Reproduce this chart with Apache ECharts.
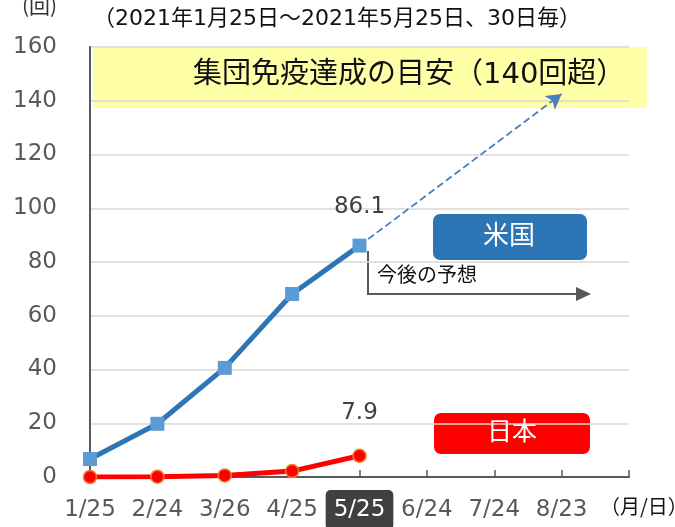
<!DOCTYPE html>
<html>
<head>
<meta charset="utf-8">
<script src="https://cdn.jsdelivr.net/npm/echarts@6/dist/echarts.min.js"></script>
<style>html,body{margin:0;padding:0;background:#fff}#c{width:675px;height:527px}</style>
</head>
<body>
<div id="c"></div>
<script>
const categories = ['1/25','2/24','3/26','4/25','5/25','6/24','7/24','8/23',''];
const usValues = [6.7, 19.8, 40.6, 68.1, 86.1];
const japanValues = [0, 0.1, 0.6, 2.2, 7.9];
const projection = [['5/25', 86.1], ['8/23', 142.5]];
const yTicks = {min: 0, max: 160, interval: 20};
const highlightCat = '5/25';
const FONT = '"DejaVu Sans", "Noto Sans CJK JP", sans-serif';
const CJK = '"Noto Sans CJK JP", sans-serif';

function labelled(arr, dist) {
  return arr.map((v, i) => i === arr.length - 1
    ? {value: v, label: {show: true, position: 'top', distance: dist, fontSize: 23, color: '#404040', fontFamily: FONT}}
    : v);
}

const labelPad = [9, 8, 8, 8];
const chart = echarts.init(document.getElementById('c'), null, {renderer: 'canvas'});
chart.setOption({
  animation: false,
  textStyle: {fontFamily: FONT},
  grid: {left: 90, right: 46, top: 47, bottom: 50, containLabel: false, outerBoundsMode: 'none'},
  xAxis: {
    type: 'category', data: categories, boundaryGap: false,
    axisLine: {lineStyle: {color: '#595959', width: 2}},
    axisTick: {inside: true, length: 7, lineStyle: {color: '#595959', width: 1.5}},
    axisLabel: {
      fontSize: 23, color: '#595959', margin: 13, interval: 0, fontFamily: FONT,
      formatter: v => v === highlightCat ? '{hl|' + v + '}' : '{n|' + v + '}',
      rich: {
        hl: {backgroundColor: '#404040', color: '#fff', fontSize: 23, fontFamily: FONT, borderRadius: 5, padding: labelPad},
        n: {color: '#595959', fontSize: 23, fontFamily: FONT, padding: labelPad}
      }
    },
    splitLine: {show: false}
  },
  yAxis: {
    type: 'value', min: yTicks.min, max: yTicks.max, interval: yTicks.interval,
    axisLine: {show: true, lineStyle: {color: '#595959', width: 2}},
    axisTick: {show: false},
    axisLabel: {fontSize: 23, color: '#595959', margin: 33, fontFamily: FONT},
    splitLine: {lineStyle: {color: '#D9D9D9', width: 1.5}}
  },
  graphic: [
    {type: 'rect', z: 0, shape: {x: 93, y: 47, width: 554, height: 61}, style: {fill: '#FFFF99', opacity: 0.85}},
    {type: 'text', z: 10, left: 193, top: 61, style: {text: '集団免疫達成の目安（140回超）', fontSize: 29, fill: '#111', fontFamily: FONT}},
    {type: 'text', left: 22, top: -5, style: {text: '(回)', fontSize: 21, fill: '#333', fontFamily: CJK}},
    {type: 'text', left: 93, top: 8, style: {text: '（2021年1月25日～2021年5月25日、30日毎）', fontSize: 22, fill: '#111', fontFamily: FONT}},
    {type: 'text', left: 600, top: 496, style: {text: '（月/日）', fontSize: 20, fill: '#111', fontFamily: CJK}},
    {type: 'rect', shape: {x: 433, y: 214, width: 154, height: 46, r: 7}, style: {fill: '#2E75B6'}},
    {type: 'text', left: 483, top: 221, style: {text: '米国', fontSize: 26, fill: '#fff', fontFamily: CJK}},
    {type: 'rect', shape: {x: 434, y: 413, width: 156, height: 41, r: 7}, style: {fill: '#FF0000'}},
    {type: 'text', left: 487, top: 418, style: {text: '日本', fontSize: 25, fill: '#fff', fontFamily: CJK}},
    {type: 'polyline', shape: {points: [[368, 251], [368, 294], [578, 294]]}, style: {stroke: '#595959', lineWidth: 2, fill: null}},
    {type: 'polygon', shape: {points: [[576, 287], [591, 294], [576, 301]]}, style: {fill: '#595959'}},
    {type: 'text', left: 377, top: 264, style: {text: '今後の予想', fontSize: 20, fill: '#111', fontFamily: CJK}}
  ],
  series: [
    {
      name: '米国', type: 'line', data: labelled(usValues, 20), z: 5,
      lineStyle: {color: '#2E75B6', width: 5},
      symbol: 'rect', symbolSize: 14,
      itemStyle: {color: '#5B9BD5', borderWidth: 0},
      markLine: {
        silent: true, symbol: ['none', 'arrow'], symbolSize: [13, 15],
        label: {show: false},
        lineStyle: {type: 'dashed', color: '#4A7EC0', width: 1.8},
        data: [[{coord: projection[0]}, {coord: projection[1]}]]
      }
    },
    {
      name: '日本', type: 'line', data: labelled(japanValues, 24), z: 6,
      lineStyle: {color: '#FF0000', width: 5},
      symbol: 'circle', symbolSize: 13,
      itemStyle: {color: '#FF0000', borderColor: '#ED7D31', borderWidth: 1.5}
    }
  ]
});
</script>
</body>
</html>
